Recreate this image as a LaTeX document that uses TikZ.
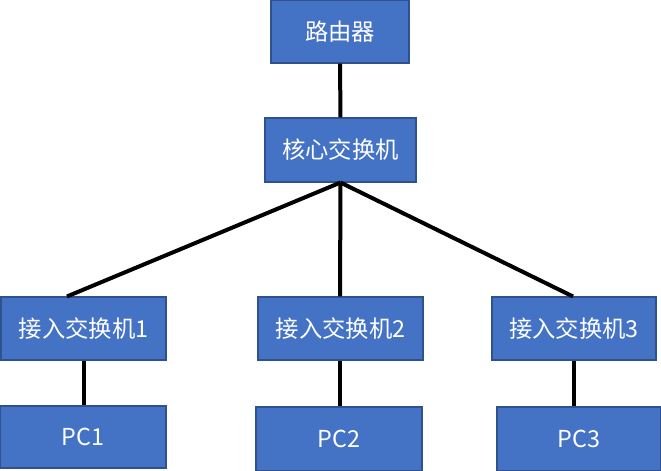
\documentclass[tikz,border=0pt]{standalone}
\usepackage{fontspec}
\setmainfont{Noto Sans CJK SC}
\usetikzlibrary{calc}
\definecolor{boxfill}{HTML}{4472C4}
\definecolor{boxedge}{HTML}{2F528F}
\begin{document}
\begin{tikzpicture}[x=0.75pt,y=-0.75pt,
  netbox/.style={draw=boxedge,fill=boxfill,line width=0.8pt,text=white,inner sep=0pt,
    font=\fontsize{17.5pt}{19pt}\selectfont},
  link/.style={line width=3pt,black}]
\useasboundingbox (0,0) rectangle (661,471);
\node[netbox,minimum width=138*0.75pt,minimum height=63*0.75pt] (r) at (340,31.5) {路由器};
\node[netbox,minimum width=151*0.75pt,minimum height=64*0.75pt] (c) at (340.5,150) {核心交换机};
\node[netbox,minimum width=165*0.75pt,minimum height=63*0.75pt] (a1) at (83.5,328.5) {接入交换机1};
\node[netbox,minimum width=165*0.75pt,minimum height=63*0.75pt] (a2) at (340.5,328.5) {接入交换机2};
\node[netbox,minimum width=164*0.75pt,minimum height=63*0.75pt] (a3) at (574,328.5) {接入交换机3};
\node[netbox,minimum width=166*0.75pt,minimum height=62*0.75pt] (p1) at (83,437) {PC1};
\node[netbox,minimum width=166*0.75pt,minimum height=64*0.75pt] (p2) at (339,439) {PC2};
\node[netbox,minimum width=164*0.75pt,minimum height=64*0.75pt] (p3) at (579,439) {PC3};
\draw[link] (r.south) -- (c.north);
\draw[link] (c.south) -- ([xshift=-16.5*0.75pt]a1.north);
\draw[link] (c.south) -- ([xshift=-0.5*0.75pt]a2.north);
\draw[link] (c.south) -- ([xshift=-1*0.75pt]a3.north);
\draw[link] (a1.south) -- (a1.south |- p1.north);
\draw[link] ([xshift=-1*0.75pt]a2.south) -- ([xshift=-1*0.75pt]a2.south |- p2.north);
\draw[link] (a3.south) -- (a3.south |- p3.north);
\end{tikzpicture}
\end{document}
